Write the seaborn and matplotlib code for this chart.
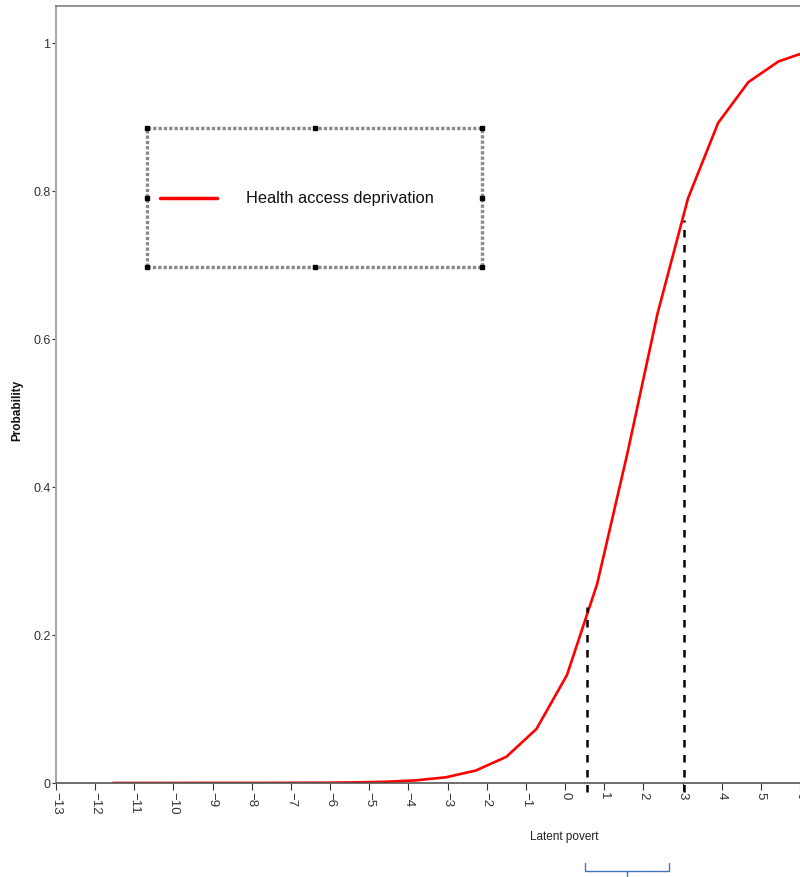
import numpy as np
import pandas as pd
import matplotlib
matplotlib.use("Agg")
import matplotlib.pyplot as plt
import seaborn as sns
from matplotlib.lines import Line2D
from matplotlib.patches import Rectangle
from matplotlib.ticker import FuncFormatter

# latent poverty score and predicted probability
latent = [-11.54, -10.77, -10.00, -9.23, -8.45, -7.68, -6.91, -6.14, -5.37, -4.59,
          -3.82, -3.05, -2.28, -1.50, -0.73, 0.05, 0.82, 1.59, 2.36, 3.14,
          3.91, 4.68, 5.45, 6.22]
prob = [0.0000, 0.0000, 0.0000, 0.0001, 0.0001, 0.0001, 0.0002, 0.0003, 0.0008, 0.0016,
        0.0035, 0.0076, 0.0168, 0.0353, 0.0730, 0.1460, 0.2690, 0.4450, 0.6340, 0.7900,
        0.8920, 0.9470, 0.9750, 0.9890]
series_name = "Health access deprivation"
cutoffs = [0.55, 3.05]
cutoff_heights = [0.238, 0.761]
xticks = list(range(-13, 7))
yticks = [0, 0.2, 0.4, 0.6, 0.8, 1.0]

df = pd.DataFrame({"latent": latent, "prob": prob, "series": series_name})

sns.set_theme(style="white")
plt.rcParams["font.family"] = ["Liberation Sans Narrow", "Liberation Sans", "DejaVu Sans"]

fig = plt.figure(figsize=(8, 8.78), dpi=100)
ax = fig.add_axes([0.07, 0.1071, 0.93, 0.885])

sns.lineplot(data=df, x="latent", y="prob", color="#ff0000", linewidth=1.9,
             ax=ax, legend=False)

for xc, yc in zip(cutoffs, cutoff_heights):
    ax.plot([xc, xc], [-0.012, yc], color="black", linestyle=(0, (3, 3)),
            linewidth=1.8, clip_on=False)

ax.set_xlim(-13, 6)
ax.set_ylim(0, 1.05)
ax.set_xticks(xticks)
ax.set_yticks(yticks)
ax.yaxis.set_major_formatter(FuncFormatter(lambda v, p: "%g" % v))
ax.tick_params(axis="x", direction="out", length=5, width=0.8, color="#333333",
               labelsize=9.5, labelcolor="#333333", labelrotation=-90, pad=1, bottom=True)
ax.tick_params(axis="y", direction="out", length=3, width=0.8, color="#333333",
               labelsize=9, labelcolor="#333333", pad=1, left=True)
for lab in ax.get_xticklabels():
    lab.set_va("top")

ax.spines["left"].set_color("#a8a8a8")
ax.spines["left"].set_linewidth(1.5)
ax.spines["bottom"].set_color("#555555")
ax.spines["bottom"].set_linewidth(1.2)
ax.spines["top"].set_color("#808080")
ax.spines["top"].set_linewidth(1.2)
ax.spines["right"].set_visible(False)

ax.set_xlabel("")
ax.set_ylabel("")
fig.text(0.022, 0.533, "Probability", rotation=90, ha="center", va="center",
         fontsize=8.5, fontweight="bold", color="#111111", family=["Liberation Sans", "DejaVu Sans"])
fig.text(0.705, 0.047, "Latent povert", ha="center", va="center",
         fontsize=8.5, color="#222222")

# legend box (text box style frame with handles)
x0, x1 = 147 / 800, 482 / 800
y0, y1 = 1 - 268 / 878, 1 - 129 / 878
fig.add_artist(Rectangle((x0, y0), x1 - x0, y1 - y0, transform=fig.transFigure,
                         facecolor="white", edgecolor="#8a8a8a", linewidth=2.4,
                         linestyle=(0, (1, 0.6)), zorder=5))
hx = [x0, (x0 + x1) / 2, x1, x0, x1, x0, (x0 + x1) / 2, x1]
hy = [y1, y1, y1, (y0 + y1) / 2, (y0 + y1) / 2, y0, y0, y0]
fig.add_artist(Line2D(hx, hy, transform=fig.transFigure, linestyle="none",
                      marker="s", markersize=2.5, color="black", zorder=6))
ly = 1 - 199 / 878
fig.add_artist(Line2D([160 / 800, 217 / 800], [ly, ly], transform=fig.transFigure,
                      color="#ff0000", linewidth=2.5, zorder=6))
fig.text(246 / 800, ly, series_name, ha="left", va="center", fontsize=11.8,
         color="#111111", zorder=7)

# blue bracket below the axis
bl, br, bc = 585 / 800, 669 / 800, 627 / 800
btop, bmid, bbot = 1 - 864 / 878, 1 - 872 / 878, 1 - 878 / 878
fig.add_artist(Line2D([bl, bl, br, br], [btop, bmid, bmid, btop],
                      transform=fig.transFigure, color="#4472c4", linewidth=1.0))
fig.add_artist(Line2D([bc, bc], [bmid, bbot], transform=fig.transFigure,
                      color="#4472c4", linewidth=1.0))

fig.savefig("out.png", dpi=100, facecolor="white")
